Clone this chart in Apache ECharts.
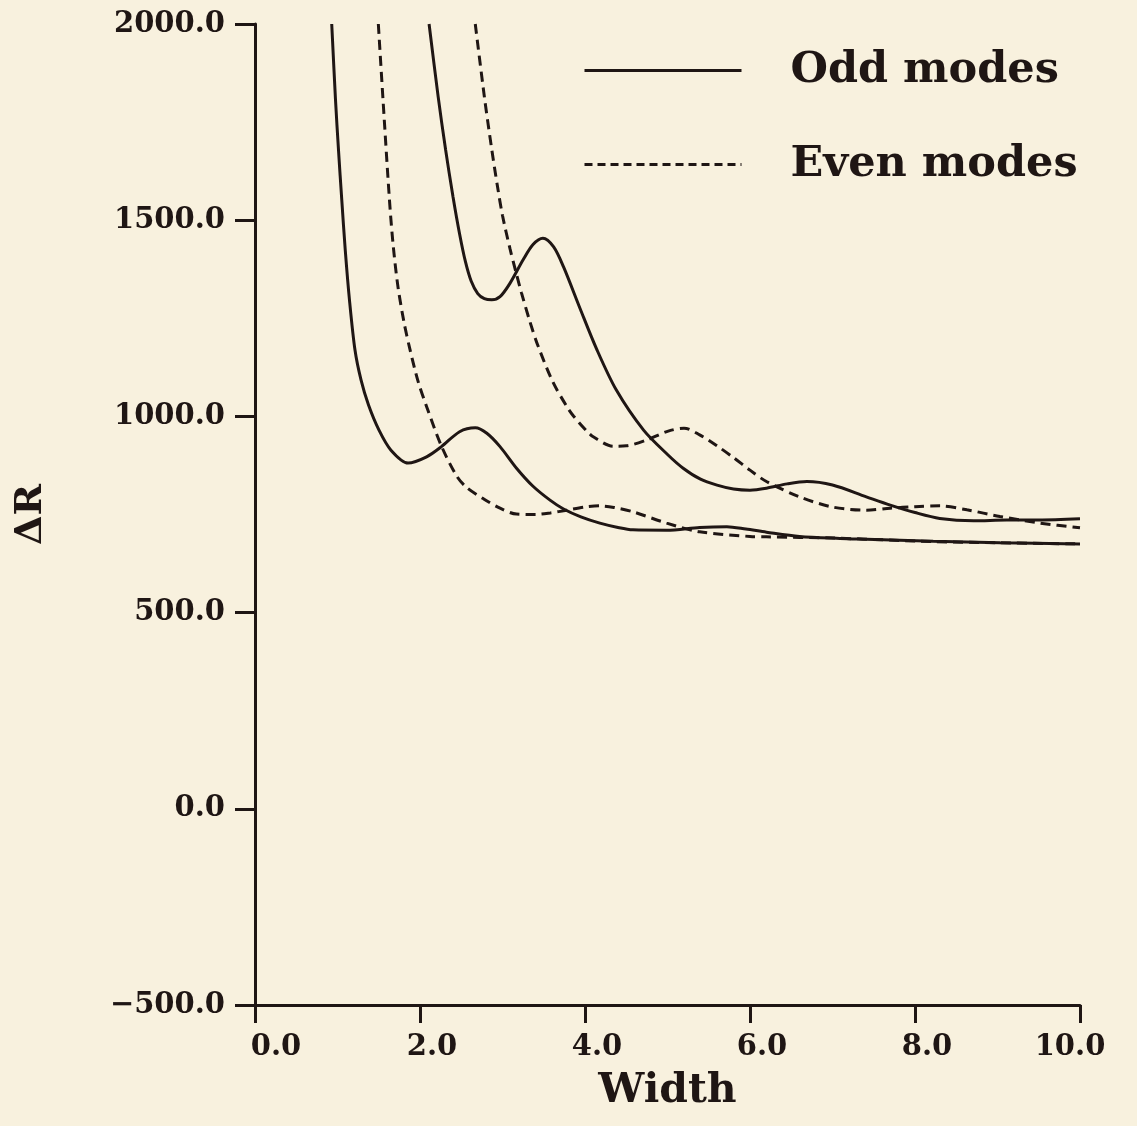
<!DOCTYPE html>
<html>
<head>
<meta charset="utf-8">
<script src="https://cdn.jsdelivr.net/npm/echarts@6/dist/echarts.min.js"></script>
<style>
html,body{margin:0;padding:0;background:#f8f1de;}
#chart{width:1137px;height:1126px;}
</style>
</head>
<body>
<div id="chart"></div>
<script>
// ---- Data ----
const seriesNames = ['Odd modes', 'Even modes'];

const oddMode1 = [[0.93,2000],[0.976,1806],[1.012,1679],[1.052,1551],[1.094,1424],[1.145,1297],[1.212,1169],[1.285,1093],[1.376,1029],[1.503,965],[1.648,914],[1.855,881],[2.08,897],[2.26,923],[2.48,961],[2.67,971],[2.81,957],[2.97,923],[3.17,868],[3.37,822],[3.58,786],[3.74,764],[3.95,744],[4.18,728],[4.4,717],[4.58,711],[4.99,710],[5.39,717],[5.72,719],[5.95,713],[6.2,705],[6.6,694],[7.09,689],[7.41,687],[8.22,682],[9.03,678],[10,675]];

const oddMode2 = [[2.11,2000],[2.22,1815],[2.31,1680],[2.40,1560],[2.48,1465],[2.55,1395],[2.62,1345],[2.70,1313],[2.78,1300],[2.87,1297],[2.97,1305],[3.09,1339],[3.25,1399],[3.37,1438],[3.49,1454],[3.62,1432],[3.74,1381],[3.94,1275],[4.14,1172],[4.38,1067],[4.71,965],[5.0,903],[5.19,868],[5.4,840],[5.6,825],[5.8,815],[6.0,812],[6.2,817],[6.45,828],[6.69,834],[7.0,825],[7.41,795],[7.70,774],[8.0,755],[8.30,740],[8.71,734],[9.11,736],[9.5,736],[10,739]];

const evenMode1 = [[1.495,2000],[1.552,1806],[1.630,1551],[1.673,1440],[1.733,1330],[1.806,1240],[1.879,1170],[1.976,1090],[2.085,1022],[2.263,923],[2.445,848],[2.57,818],[2.77,790],[2.97,766],[3.17,751],[3.40,750],[3.58,754],[3.78,761],[4.0,769],[4.18,772],[4.35,768],[4.58,757],[4.99,728],[5.39,706],[6.0,694],[6.2,693],[7.0,690],[8.22,681],[9.0,678],[10,675]];

const evenMode2 = [[2.67,2000],[2.78,1815],[2.87,1680],[2.94,1585],[3.00,1512],[3.09,1428],[3.17,1362],[3.23,1315],[3.33,1243],[3.43,1180],[3.61,1088],[3.78,1025],[3.86,1001],[4.02,963],[4.10,948],[4.34,924],[4.50,925],[4.75,940],[5.0,962],[5.2,970],[5.39,953],[5.6,925],[5.8,895],[6.0,863],[6.2,834],[6.6,795],[7.0,769],[7.41,761],[7.70,766],[8.0,770],[8.30,772],[8.63,762],[9.03,745],[9.52,728],[10,716]];

const xAxisName = 'Width';
const yAxisName = 'ΔR';

// ---- Chart ----
const ink = '#1f1614';
const serif = 'DejaVu Serif';
const labelFont = {fontFamily: serif, fontWeight: 'bold', fontSize: 29, color: ink};

const chart = echarts.init(document.getElementById('chart'), null, {renderer: 'canvas'});

function lineSeries(name, data, dashed) {
  return {
    name: name,
    type: 'line',
    data: data,
    smooth: 0.3,
    symbol: 'none',
    clip: true,
    lineStyle: {color: ink, width: 3, type: dashed ? [10, 6] : 'solid', cap: 'butt'},
    itemStyle: {color: ink},
    emphasis: {disabled: true},
    z: 3
  };
}

chart.setOption({
  backgroundColor: '#f8f1de',
  animation: false,
  grid: {left: 255, right: 57, top: 24, bottom: 121, containLabel: false},
  legend: {
    orient: 'vertical',
    left: 583,
    top: 49,
    padding: 0,
    itemWidth: 157,
    itemHeight: 14,
    itemGap: 51,
    selectedMode: false,
    formatter: '{t|{name}}',
    itemStyle: {opacity: 0},
    textStyle: {
      fontFamily: serif, fontWeight: 'bold', fontSize: 43, color: ink,
      rich: {t: {fontFamily: serif, fontWeight: 'bold', fontSize: 43, color: ink, lineHeight: 40, padding: [0, 0, 0, 44]}}
    },
    data: [
      {name: seriesNames[0], itemStyle: {opacity: 0}, lineStyle: {color: ink, width: 3, type: 'solid', opacity: 1}},
      {name: seriesNames[1], itemStyle: {opacity: 0}, lineStyle: {color: ink, width: 3, type: [8, 5], opacity: 1}}
    ]
  },
  xAxis: {
    type: 'value',
    min: 0, max: 10, interval: 2,
    name: xAxisName,
    nameLocation: 'middle',
    nameGap: 66,
    nameTextStyle: {fontFamily: serif, fontWeight: 'bold', fontSize: 41, color: ink},
    axisLine: {show: true, onZero: false, lineStyle: {color: ink, width: 3}},
    axisTick: {show: true, inside: false, length: 18, lineStyle: {color: ink, width: 3}},
    splitLine: {show: false},
    axisLabel: {
      margin: 28,
      fontFamily: serif, fontWeight: 'bold', fontSize: 29, color: ink,
      formatter: function (v) {
        const s = v.toFixed(1);
        if (v === 0) return '{a|' + s + '}';
        if (v === 10) return '{c|' + s + '}';
        return '{b|' + s + '}';
      },
      rich: {
        a: Object.assign({padding: [0, 0, 0, 42]}, labelFont),
        b: Object.assign({padding: [0, 0, 0, 24]}, labelFont),
        c: Object.assign({padding: [0, 20, 0, 0]}, labelFont)
      }
    }
  },
  yAxis: {
    type: 'value',
    min: -500, max: 2000, interval: 500,
    name: yAxisName,
    nameLocation: 'middle',
    nameGap: 205,
    nameRotate: 90,
    nameTextStyle: {fontFamily: serif, fontWeight: 'bold', fontSize: 38, color: ink},
    axisLine: {show: true, onZero: false, lineStyle: {color: ink, width: 3}},
    axisTick: {show: true, inside: false, length: 20, lineStyle: {color: ink, width: 3}},
    splitLine: {show: false},
    axisLabel: {
      margin: 30,
      fontFamily: serif, fontWeight: 'bold', fontSize: 29, color: ink,
      formatter: function (v) { return (v < 0 ? '\u2212' + Math.abs(v).toFixed(1) : v.toFixed(1)); }
    }
  },
  series: [
    lineSeries(seriesNames[0], oddMode1, false),
    lineSeries(seriesNames[0], oddMode2, false),
    lineSeries(seriesNames[1], evenMode1, true),
    lineSeries(seriesNames[1], evenMode2, true)
  ]
});
</script>
</body>
</html>
